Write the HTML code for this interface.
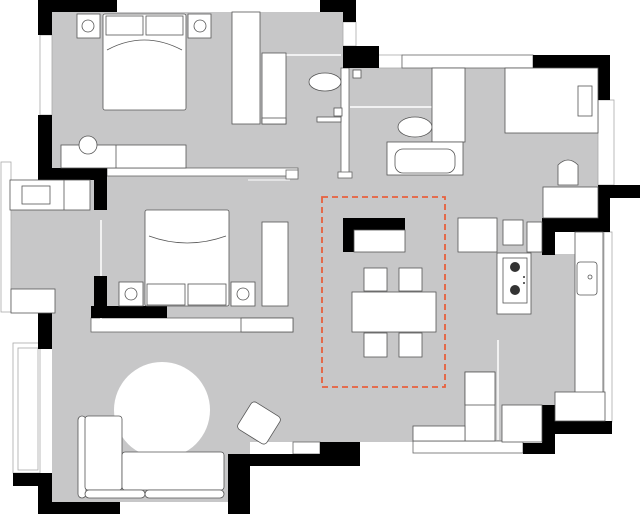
<!DOCTYPE html>
<html><head><meta charset="utf-8"><style>
html,body{margin:0;padding:0;background:#fff;}
svg{display:block;}
</style></head><body>
<svg width="640" height="514" viewBox="0 0 640 514" xmlns="http://www.w3.org/2000/svg">
<rect width="640" height="514" fill="#fff"/>
<!-- floor gray -->
<g fill="#c7c7c8">
<polygon points="52,12 343,12 343,68 598,68 598,232 575,232 575,420 555,420 555,442 250,442 250,454 228,454 228,502 52,502 52,332 52,180"/>
<rect x="10" y="180" width="90" height="130"/>
</g>
<!-- outer window / balcony outlines -->
<g fill="#fff" stroke="#aaa" stroke-width="0.8">
<rect x="40" y="35" width="12" height="80"/>
<rect x="1" y="162" width="10" height="150"/>
<rect x="13" y="343" width="27" height="130"/>
<rect x="18" y="348" width="20" height="122" fill="none"/>
<rect x="598" y="100" width="16" height="85"/>
<rect x="604" y="232" width="8" height="190"/>
<rect x="343" y="22" width="13" height="24"/>
<rect x="378" y="55" width="24" height="13"/>
</g>
<!-- white light walls -->
<g fill="#fff" stroke="#666" stroke-width="0.8">
<rect x="402" y="55" width="131" height="13"/>
<rect x="107" y="168" width="191" height="8"/>
<rect x="286" y="170" width="12" height="9"/>
<rect x="91" y="318" width="202" height="14"/>
<rect x="341" y="68" width="8" height="107"/>
<rect x="338" y="172" width="14" height="6"/>
<rect x="293" y="442" width="27" height="12"/>
<rect x="413" y="441" width="110" height="12"/>
</g>
<line x1="248" y1="180" x2="290" y2="180" stroke="#fff" stroke-width="1"/>
<line x1="286" y1="55" x2="341" y2="55" stroke="#fff" stroke-width="1.5"/>
<line x1="350" y1="107" x2="432" y2="107" stroke="#fff" stroke-width="1.5"/>
<line x1="101" y1="220" x2="101" y2="330" stroke="#fff" stroke-width="1.5"/>
<line x1="498" y1="340" x2="498" y2="440" stroke="#fff" stroke-width="1.5"/>
<!-- black walls -->
<g fill="#000">
<rect x="38" y="0" width="79" height="12"/>
<rect x="38" y="0" width="14" height="35"/>
<rect x="38" y="115" width="14" height="65"/>
<rect x="38" y="168" width="69" height="12"/>
<rect x="94" y="168" width="13" height="42"/>
<rect x="320" y="0" width="36" height="12"/>
<rect x="343" y="0" width="13" height="22"/>
<rect x="343" y="46" width="36" height="22"/>
<rect x="533" y="55" width="77" height="13"/>
<rect x="598" y="55" width="12" height="45"/>
<rect x="598" y="185" width="42" height="13"/>
<rect x="598" y="185" width="12" height="47"/>
<rect x="542" y="218" width="68" height="14"/>
<rect x="542" y="218" width="13" height="37"/>
<rect x="94" y="276" width="13" height="42"/>
<rect x="91" y="306" width="76" height="12"/>
<rect x="38" y="305" width="14" height="44"/>
<rect x="13" y="473" width="39" height="13"/>
<rect x="38" y="473" width="14" height="41"/>
<rect x="38" y="502" width="82" height="12"/>
<rect x="228" y="454" width="22" height="60"/>
<rect x="228" y="454" width="132" height="12"/>
<rect x="320" y="442" width="40" height="24"/>
<rect x="523" y="443" width="32" height="11"/>
<rect x="542" y="405" width="13" height="49"/>
<rect x="555" y="421" width="57" height="13"/>
<rect x="343" y="218" width="62" height="12"/>
<rect x="343" y="218" width="11" height="34"/>
</g>
<!-- furniture -->
<g fill="#fff" stroke="#555" stroke-width="0.8">
<!-- bedroom 1 -->
<rect x="77" y="14" width="23" height="24"/>
<rect x="188" y="14" width="23" height="24"/>
<rect x="103" y="14" width="83" height="96" rx="2"/>
<rect x="106" y="16" width="37" height="19"/>
<rect x="146" y="16" width="37" height="19"/>
<rect x="61" y="145" width="125" height="23"/>
<line x1="116" y1="145" x2="116" y2="168"/>
<circle cx="88" cy="145" r="9"/>
<rect x="232" y="12" width="28" height="112"/>
<rect x="262" y="53" width="24" height="71"/>
<rect x="262" y="118" width="24" height="6"/>
<!-- bathroom -->
<ellipse cx="325" cy="82" rx="16" ry="9"/>
<rect x="353" y="70" width="8" height="8"/>
<rect x="334" y="108" width="8" height="8"/>
<rect x="317" y="117" width="24" height="5"/>
<ellipse cx="415" cy="127" rx="17" ry="10"/>
<rect x="432" y="68" width="33" height="74"/>
<rect x="387" y="142" width="76" height="33"/>
<rect x="395" y="149" width="60" height="24" rx="8"/>
<!-- bedroom 3 -->
<rect x="505" y="68" width="93" height="65"/>
<rect x="578" y="86" width="14" height="30"/>
<path d="M558,165 Q568,155 578,165 L578,185 L558,185 Z"/>
<rect x="543" y="187" width="55" height="31"/>
<!-- bedroom 2 -->
<rect x="145" y="210" width="84" height="96" rx="2"/>
<rect x="147" y="284" width="38" height="21"/>
<rect x="188" y="284" width="38" height="21"/>
<rect x="119" y="282" width="24" height="24"/>
<rect x="231" y="282" width="24" height="24"/>
<rect x="262" y="222" width="26" height="84"/>
<rect x="241" y="318" width="52" height="14"/>
<rect x="10" y="180" width="80" height="30"/>
<line x1="64" y1="180" x2="64" y2="210"/>
<rect x="22" y="186" width="28" height="18"/>
<rect x="11" y="289" width="44" height="24"/>
<!-- dining -->
<rect x="354" y="230" width="51" height="22"/>
<rect x="364" y="268" width="23" height="23"/>
<rect x="399" y="268" width="23" height="23"/>
<rect x="352" y="292" width="84" height="40"/>
<rect x="364" y="333" width="23" height="24"/>
<rect x="399" y="333" width="23" height="24"/>
<!-- kitchen -->
<rect x="458" y="218" width="39" height="34"/>
<rect x="503" y="220" width="20" height="25"/>
<rect x="527" y="222" width="15" height="30"/>
<rect x="555" y="232" width="20" height="22" stroke="none"/>
<rect x="497" y="253" width="34" height="61"/>
<rect x="503" y="258" width="24" height="45"/>
<rect x="575" y="232" width="28" height="188"/>
<rect x="577" y="262" width="20" height="33" rx="3"/>
<rect x="465" y="372" width="30" height="69"/>
<rect x="465" y="372" width="30" height="33"/>
<rect x="502" y="405" width="40" height="37"/>
<rect x="555" y="392" width="50" height="29"/>
<rect x="413" y="426" width="52" height="15"/>
<!-- living -->
<circle cx="162" cy="410" r="48" stroke="none"/>
<rect x="78" y="416" width="8" height="82" rx="4"/>
<rect x="85" y="416" width="37" height="74" rx="3"/>
<rect x="122" y="452" width="102" height="38" rx="3"/>
<rect x="85" y="490" width="60" height="8" rx="4"/>
<rect x="145" y="490" width="79" height="8" rx="4"/>
<rect x="242" y="407" width="34" height="32" rx="4" transform="rotate(32 259 423)"/>
</g>
<!-- stove burners -->
<g fill="#333"><circle cx="515" cy="267" r="5"/><circle cx="515" cy="290" r="5"/><circle cx="524" cy="277" r="1"/><circle cx="524" cy="283" r="1"/></g>
<circle cx="590" cy="277" r="2" fill="none" stroke="#555" stroke-width="0.8"/>
<!-- nightstand lamps -->
<g fill="none" stroke="#555" stroke-width="0.8">
<circle cx="88" cy="26" r="6"/><circle cx="200" cy="26" r="6"/>
<circle cx="131" cy="294" r="6"/><circle cx="243" cy="294" r="6"/>
<path d="M107,50 Q144,30 182,50"/>
<path d="M149,236 Q187,250 226,236"/>
</g>
<!-- dining dashed -->
<rect x="322" y="197" width="123" height="190" fill="none" stroke="#e8603c" stroke-width="1.8" stroke-dasharray="6,4"/>
</svg>
</body></html>
